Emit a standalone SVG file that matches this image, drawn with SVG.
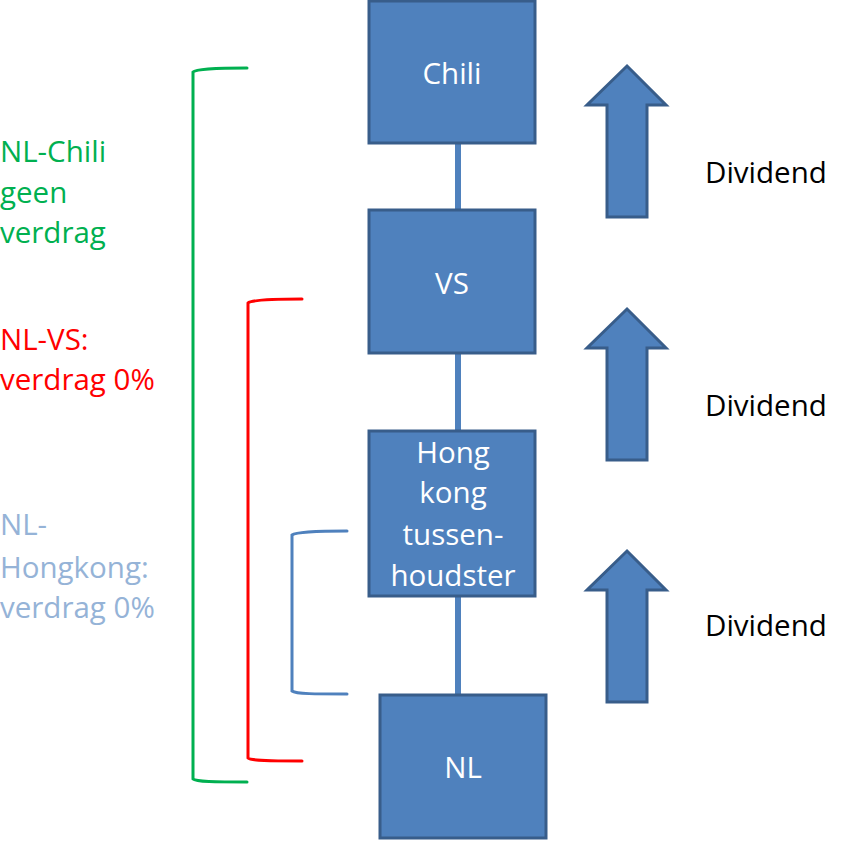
<svg xmlns="http://www.w3.org/2000/svg" width="851" height="857" viewBox="0 0 851 857">
<style>
.box{fill:#4F81BD;stroke:#385D8A;stroke-width:3}
.arrow{fill:#4F81BD;stroke:#385D8A;stroke-width:3;stroke-linejoin:miter}
.lbl{font-family:"Open Sans","Liberation Sans",sans-serif;font-size:29.5px}
.w{fill:#FFFFFF;text-anchor:middle}
.k{fill:#000000}
.br{fill:none;stroke-width:3;stroke-linecap:round}
</style>
<rect width="851" height="857" fill="#FFFFFF"/>
<g id="connectors" stroke="#4F81BD" stroke-width="6">
<line x1="458" y1="143" x2="458" y2="209"/>
<line x1="458" y1="353" x2="458" y2="430"/>
<line x1="458" y1="597" x2="458" y2="694"/>
</g>
<g id="brackets">
<path class="br" stroke="#00B050" d="M247,68 C215,68 196,69 193,72 L193,779 C196,782 215,782 247,782"/>
<path class="br" stroke="#FF0000" d="M302,299 C270,299 251,300 248,303 L248,758 C251,761 270,761 302,761"/>
<path class="br" stroke="#4F81BD" d="M347,531 C315,531 296,532 292,535 L292,691 C296,694 315,694 347,694"/>
</g>
<g id="node-chili">
<rect class="box" x="369" y="1" width="166" height="142"/>
<text class="lbl w" x="452" y="84">Chili</text>
</g>
<g id="node-vs">
<rect class="box" x="369" y="210" width="166" height="143"/>
<text class="lbl w" x="452" y="294">VS</text>
</g>
<g id="node-hk">
<rect class="box" x="369" y="431" width="166" height="165"/>
<text class="lbl w" x="453" y="463">Hong</text>
<text class="lbl w" x="453" y="503">kong</text>
<text class="lbl w" x="453" y="545">tussen-</text>
<text class="lbl w" x="453" y="586">houdster</text>
</g>
<g id="node-nl">
<rect class="box" x="380" y="695" width="166" height="143"/>
<text class="lbl w" x="463" y="778">NL</text>
</g>
<g id="arrow-1">
<polygon class="arrow" points="627,66 666,105 647,105 647,217 607,217 607,105 587,105"/>
</g>
<g id="arrow-2">
<polygon class="arrow" points="627,309 666,348 647,348 647,460 607,460 607,348 587,348"/>
</g>
<g id="arrow-3">
<polygon class="arrow" points="627,551 666,590 647,590 647,702 607,702 607,590 587,590"/>
</g>
<g id="dividend-labels">
<text class="lbl k" x="705" y="183">Dividend</text>
<text class="lbl k" x="705" y="416">Dividend</text>
<text class="lbl k" x="705" y="636">Dividend</text>
</g>
<g id="label-chili" fill="#00B050">
<text class="lbl" x="0" y="162">NL-Chili</text>
<text class="lbl" x="0" y="203">geen</text>
<text class="lbl" x="0" y="243">verdrag</text>
</g>
<g id="label-vs" fill="#FF0000">
<text class="lbl" x="0" y="350">NL-VS:</text>
<text class="lbl" x="0" y="390">verdrag 0%</text>
</g>
<g id="label-hk" fill="#95B3D7">
<text class="lbl" x="0" y="535">NL-</text>
<text class="lbl" x="0" y="578">Hongkong:</text>
<text class="lbl" x="0" y="618">verdrag 0%</text>
</g>
</svg>
